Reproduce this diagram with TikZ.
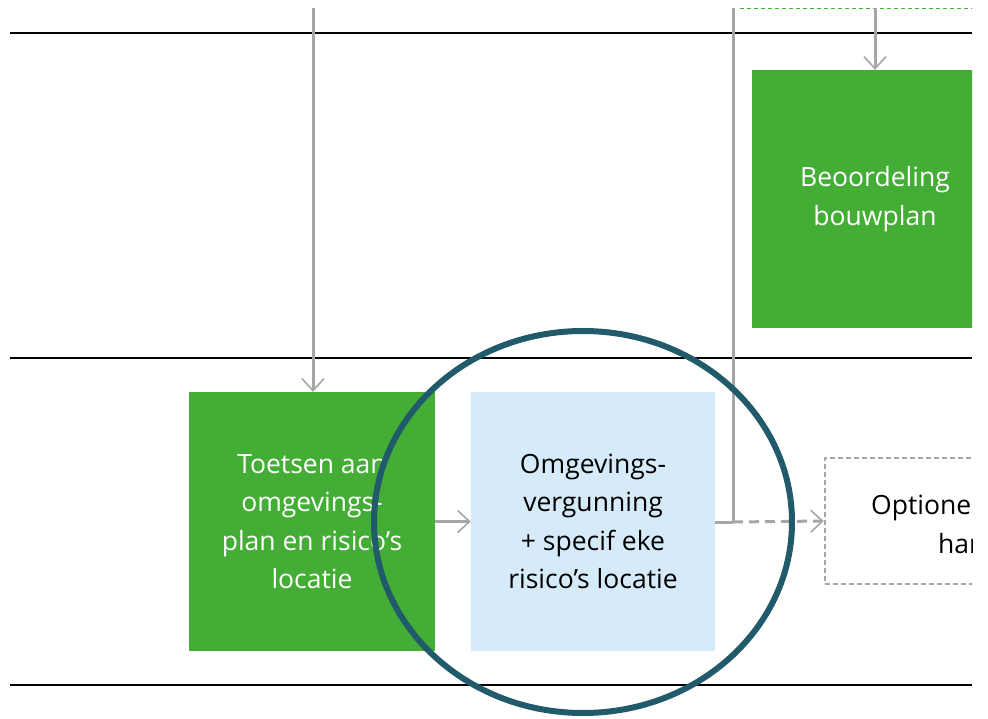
\documentclass[tikz,border=0pt]{standalone}
\usepackage{fontspec}
\setmainfont{Open Sans}
\usetikzlibrary{arrows.meta,shapes.geometric}
\definecolor{grn}{HTML}{44AD35}
\definecolor{lblue}{HTML}{D6EBFA}
\definecolor{gry}{HTML}{A6A6A6}
\definecolor{teal}{HTML}{215A6A}
\tikzset{
  txt/.style={font=\fontsize{26.5}{38.5}\selectfont},
  box/.style={minimum width=#1, inner sep=0pt, align=center, txt},
  greenbox/.style={box=246pt, fill=grn, text=white, minimum height=259pt},
  bluebox/.style={box=244pt, fill=lblue, text=black, minimum height=259pt},
  flow/.style={draw=gry, line width=3pt, -{Straight Barb[length=12pt,width=22pt,line width=1.6pt]}},
  lane/.style={draw=black, line width=1.4pt},
}
\begin{document}
\begin{tikzpicture}[x=1pt,y=-1pt]
\useasboundingbox (0,0) rectangle (988,719);
\begin{scope}
\clip (0,0) rectangle (972,719);
% lanes
\coordinate (l1a) at (10,33); \coordinate (l1b) at (972,33);
\coordinate (l2a) at (10,358); \coordinate (l2b) at (972,358);
\coordinate (l3a) at (10,685); \coordinate (l3b) at (972,685);
\draw[lane] (l1a) -- (l1b);
\draw[lane] (l2a) -- (l2b);
\draw[lane] (l3a) -- (l3b);
\coordinate (ga) at (740,8); \coordinate (gb) at (972,8);
\draw[grn, line width=0.9pt, dash pattern=on 4pt off 3pt] (ga) -- (gb);
% boxes
\node[greenbox] (toets) at (312,521.5) {Toetsen aan\\omgevings-\\plan en risico’s\\locatie};
\node[bluebox] (omg) at (593,521.5) {Omgevings-\\vergunning\\+ specif eke\\risico’s locatie};
\node[greenbox, minimum height=258pt] (beo) at (875,199) {Beoordeling\\bouwplan};
\node[draw=gry, dash pattern=on 5pt off 3pt, line width=2.4pt, minimum width=246pt, minimum height=126pt, inner sep=0pt] (opt) at (948,521) {};
\node[anchor=base west, inner sep=0pt, txt] (opt1) at (871,514) {Optionele};
\node[anchor=base west, inner sep=0pt, txt] (opt2) at (938,553) {han};
% connectors
\coordinate (s1) at (313,8);
\coordinate (s2) at (875,8);
\coordinate (s3) at (733,8);
\coordinate (j) at (733,522);
\draw[flow] (s1) -- (toets.north -| s1);
\draw[flow] (s2) -- (beo.north);
\draw[flow] (toets.east) -- (omg.west);
\draw[draw=gry, line width=3pt] (s3) -- (j);
\draw[draw=gry, line width=3pt] (omg.east |- j) -- (j);
\draw[flow, dash pattern=on 10pt off 6pt] (j) -- (opt.west);
\end{scope}
% highlight ellipse
\node[draw=teal, line width=6pt, ellipse, minimum width=418pt, minimum height=382pt, inner sep=0pt] (ring) at (583,522) {};
\end{tikzpicture}
\end{document}
